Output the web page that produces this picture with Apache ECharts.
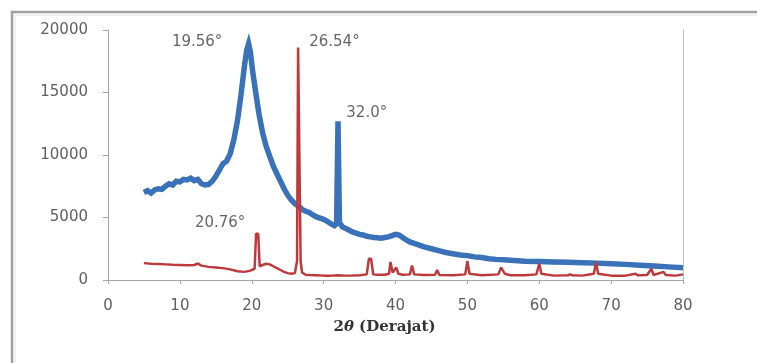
<!DOCTYPE html>
<html>
<head>
<meta charset="utf-8">
<script src="https://cdn.jsdelivr.net/npm/echarts@6/dist/echarts.min.js"></script>
<style>
html,body{margin:0;padding:0;background:#fff;overflow:hidden;}
#c{width:757px;height:363px;}
</style>
</head>
<body>
<div id="c"></div>
<script>
// X-axis and Y-axis ticks
var xTicks = [0, 10, 20, 30, 40, 50, 60, 70, 80];
var yTicks = [0, 5000, 10000, 15000, 20000];

// Blue series: [2theta, intensity]
var blueSeries = [
  [5,7000],[5.5,7150],[6,6950],[6.5,7200],[7,7300],[7.5,7250],[8,7500],[8.5,7700],[9,7600],[9.5,7900],
  [10,7850],[10.5,8050],[11,8000],[11.5,8150],[12,7950],[12.5,8050],[13,7700],[13.5,7600],[14,7650],[14.5,7900],
  [15,8300],[15.5,8800],[16,9300],[16.5,9500],[17,10100],[17.5,11200],[18,12700],[18.5,14800],[19,17200],[19.3,18400],
  [19.56,18900],[19.8,18300],[20.1,16800],[20.5,15200],[21,13300],[21.5,11800],[22,10700],[22.5,9900],[23,9100],[23.5,8500],
  [24,7900],[24.5,7300],[25,6800],[25.5,6400],[26,6100],[26.5,5900],[27,5650],[27.5,5500],[28,5400],[28.5,5200],
  [29,5050],[29.5,4950],[30,4850],[30.5,4700],[31,4500],[31.5,4350],[31.8,4500],[32,12700],[32.2,4600],[32.6,4250],
  [33,4150],[33.5,4000],[34,3850],[34.5,3750],[35,3650],[35.5,3600],[36,3500],[36.5,3450],[37,3400],[37.5,3380],
  [38,3350],[38.5,3400],[39,3450],[39.5,3550],[40,3650],[40.5,3600],[41,3400],[41.5,3200],[42,3050],[42.5,2950],
  [43,2850],[44,2650],[45,2500],[46,2350],[47,2200],[48,2100],[49,2000],[50,1950],[51,1850],[52,1800],
  [53,1700],[54,1650],[55,1620],[56,1580],[58,1500],[60,1480],[62,1440],[64,1420],[66,1380],[68,1350],
  [70,1300],[72,1250],[74,1180],[76,1120],[78,1050],[80,980]
];

// Red series: [2theta, intensity]
var redSeries = [
  [5,1350],[6,1300],[7,1280],[8,1250],[9,1220],[10,1200],[11,1180],[12,1200],[12.5,1320],[13,1150],
  [14,1050],[15,1000],[16,950],[17,850],[18,700],[19,650],[19.8,750],[20.4,900],[20.6,3700],[20.9,3700],
  [21.1,1100],[21.5,1200],[22,1300],[22.5,1250],[23,1100],[23.5,950],[24,800],[24.5,650],[25,550],[25.5,500],
  [26,550],[26.3,1500],[26.45,18600],[26.65,18600],[26.8,1500],[27,600],[27.5,420],[28,400],[29,380],[30,350],
  [31,350],[32,380],[33,350],[34,360],[35,380],[36,450],[36.3,1700],[36.6,1700],[36.9,450],[37.5,420],
  [38.5,420],[39.1,500],[39.3,1450],[39.6,600],[40.1,1000],[40.4,500],[41,420],[42,450],[42.3,1150],[42.6,450],
  [44,400],[45.5,420],[45.8,800],[46.1,400],[48,380],[49.7,450],[50,1500],[50.3,500],[52,380],[54.3,450],
  [54.7,1000],[55.2,500],[56,380],[58,380],[59.6,450],[60,1300],[60.3,500],[62,350],[64,380],[64.3,450],
  [64.6,380],[66,350],[67.6,500],[67.9,1400],[68.2,500],[70,350],[72,350],[73.4,500],[73.7,380],[75,400],
  [75.6,900],[75.9,400],[77.3,650],[77.6,400],[79,350],[80,450]
];

// Peak annotations: [x, y, text]
var peakLabels = [
  [12.4, 19050, '19.56°'],
  [31.5, 19050, '26.54°'],
  [36.0, 13350, '32.0°'],
  [15.6, 4550, '20.76°']
];

var chart = echarts.init(document.getElementById('c'), null, {renderer: 'canvas'});
var axisGray = '#a6a6a6';
var labelFont = 'DejaVu Sans';

chart.setOption({
  backgroundColor: '#ffffff',
  animation: false,
  grid: {left: 108, right: 74, top: 30, bottom: 83, containLabel: false},
  graphic: [{
    type: 'polyline',
    shape: {points: [[12, 400], [12, 12], [757, 12]]},
    style: {fill: 'none', stroke: '#a0a0a0', lineWidth: 2.5},
    silent: true
  }, {
    type: 'polyline',
    shape: {points: [[15, 400], [15, 15], [757, 15]]},
    style: {fill: 'none', stroke: '#ececec', lineWidth: 1.5},
    silent: true
  }],
  xAxis: {
    type: 'value',
    min: xTicks[0], max: xTicks[xTicks.length - 1], interval: xTicks[1] - xTicks[0],
    splitLine: {show: false},
    axisLine: {show: true, lineStyle: {color: axisGray, width: 1}},
    axisTick: {show: true, length: 4, lineStyle: {color: axisGray}},
    axisLabel: {margin: 19, color: '#606060', fontFamily: labelFont, fontSize: 15},
    name: '{n|2}{t|θ}{n| (Derajat)}',
    nameLocation: 'middle',
    nameGap: 40,
    nameTextStyle: {
      padding: [0, 22, 0, 0],
      rich: {
        n: {fontFamily: 'DejaVu Serif', fontWeight: 'bold', fontSize: 15, color: '#333'},
        t: {fontFamily: 'DejaVu Serif', fontStyle: 'italic', fontWeight: 'bold', fontSize: 15, color: '#333'}
      }
    }
  },
  yAxis: [{
    type: 'value',
    min: yTicks[0], max: yTicks[yTicks.length - 1], interval: yTicks[1] - yTicks[0],
    splitLine: {show: false},
    axisLine: {show: true, lineStyle: {color: axisGray, width: 1}},
    axisTick: {show: true, length: 5, lineStyle: {color: axisGray}},
    axisLabel: {margin: 20, color: '#606060', fontFamily: labelFont, fontSize: 15,
      formatter: function (v) { return String(v); }}
  }, {
    type: 'value', position: 'right',
    min: yTicks[0], max: yTicks[yTicks.length - 1],
    splitLine: {show: false},
    axisLine: {show: true, lineStyle: {color: '#c0c0c0', width: 1}},
    axisTick: {show: false},
    axisLabel: {show: false}
  }],
  series: [{
    type: 'line',
    data: blueSeries,
    showSymbol: false,
    symbol: 'none',
    lineStyle: {color: '#3a72b9', width: 5.5, join: 'miter'},
    z: 2
  }, {
    type: 'line',
    data: redSeries,
    showSymbol: false,
    symbol: 'none',
    lineStyle: {color: '#bd3a3c', width: 2.5},
    z: 3
  }, {
    type: 'scatter',
    data: peakLabels,
    symbolSize: 0,
    silent: true,
    label: {
      show: true,
      position: 'inside',
      formatter: function (p) { return p.data[2]; },
      color: '#404040',
      fontFamily: labelFont,
      fontSize: 15
    },
    z: 5
  }]
});
</script>
</body>
</html>
